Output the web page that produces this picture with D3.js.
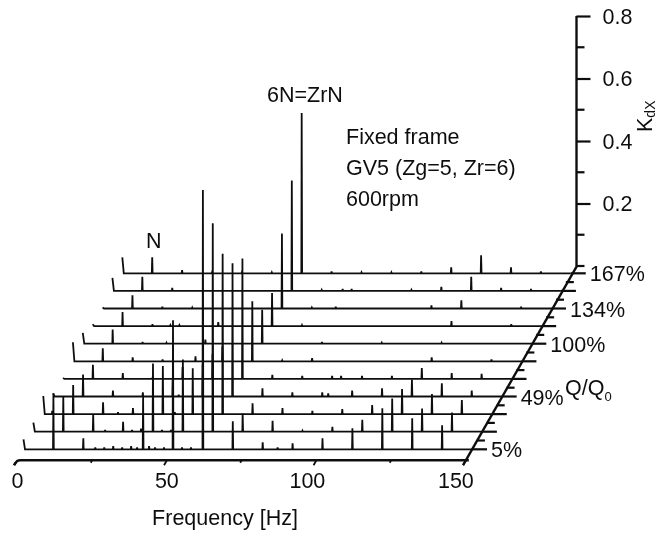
<!DOCTYPE html>
<html><head><meta charset="utf-8">
<script src="https://cdn.jsdelivr.net/npm/d3@7"></script>
<style>html,body{margin:0;background:#fff}svg{display:block}text{font-family:"Liberation Sans",Arial,sans-serif;fill:#111}</style>
</head><body><svg id="c" width="669" height="534"></svg>
<script>
// [frequency Hz, KdX] spectral peaks for each flow-rate row, front to back
const row0=[[0,.032],[10,.179],[20,.035],[24,.006],[27,.006],[30,.01],[33,.006],[36,.01],[38,.006],[40,.167],[42,.01],[44,.006],[47,.006],[50,.413],[53,.006],[56,.006],[60,.83],[70,.09],[80,.022],[85,.006],[90,.019],[100,.035],[110,.067],[120,.131],[130,.099],[140,.077]];
const row1=[[0,.029],[10,.112],[20,.054],[24,.006],[30,.032],[33,.006],[36,.01],[40,.218],[43,.006],[46,.006],[50,.231],[60,.667],[70,.058],[80,.035],[90,.003],[100,.016],[110,.038],[120,.106],[130,.074],[140,.061]];
const row2=[[0,.058],[3,.01],[10,.093],[20,.038],[25,.006],[30,.019],[40,.154],[44,.006],[50,.147],[60,.513],[70,.035],[80,.019],[90,.01],[100,.016],[110,.029],[120,.08],[130,.064],[140,.045]];
const row3=[[0,.01],[10,.07],[20,.019],[30,.013],[40,.058],[42,.006],[50,.102],[60,.426],[70,.026],[80,.013],[90,.013],[92,.01],[100,.019],[110,.026],[120,.054],[130,.042],[140,.019]];
const row4=[[0,.003],[10,.045],[20,.019],[30,.006],[40,.038],[50,.08],[60,.385],[70,.013],[80,.01],[90,.01],[93,.01],[100,.01],[110,.01],[120,.035],[130,.019],[140,.016]];
const row5=[[0,.061],[10,.042],[20,.013],[30,.006],[41,.016],[50,.048],[60,.192],[70,.003],[80,.01],[120,.013],[140,.006]];
const row6=[[0,.035],[10,.045],[20,.006],[28,.003],[41,.013],[60,.109],[80,.006],[100,.003],[120,.003]];
const row7=[[0,.006],[10,.045],[20,.006],[26,.003],[29,.003],[42,.013],[60,.106],[70,.003],[120,.016],[140,.006]];
const row8=[[0,.003],[10,.042],[20,.006],[30,.003],[60,.24],[70,.003],[78,.006],[110,.01],[120,.026],[140,.006]];
const row9=[[0,.042],[10,.045],[20,.01],[60,.353],[70,.003],[77,.006],[80,.006],[100,.003],[110,.013],[120,.045],[130,.01],[140,.006]];
const row10=[[0,.051],[10,.051],[20,.01],[30,.003],[40,.003],[50,.003],[60,.513],[70,.006],[80,.003],[90,.003],[100,.006],[110,.019],[120,.058],[130,.019],[140,.006]];
const rows=[row0,row1,row2,row3,row4,row5,row6,row7,row8,row9,row10];
const depthLabels=[[0,"5%"],[3,"49%"],[6,"100%"],[8,"134%"],[10,"167%"]];
const freqLabels=[0,50,100,150];
const freqMinor=[25,75,125];
const kMajor=[.2,.4,.6,.8];
const kMinor=[.1,.3,.5,.7];
const notes=["Fixed frame","GV5 (Zg=5, Zr=6)","600rpm"];

const svg=d3.select("#c");
const defs=svg.append("defs");
defs.append("filter").attr("id","scan").attr("x","0").attr("y","0").attr("width","1").attr("height","1")
  .append("feGaussianBlur").attr("stdDeviation",0.4);
const g=svg.append("g").attr("filter","url(#scan)");
const ink="#111";
const fs=21.5;

const xF=d3.scaleLinear().domain([0,150]).range([23.5,472]);
const yK=d3.scaleLinear().domain([0,.8]).range([0,-250]);
const rowY=d3.scaleLinear().domain([0,10]).range([449.3,273.3]);
const rowX=d3.scaleLinear().domain([0,10]).range([0,98.8]);
const yAxisK=d3.scaleLinear().domain([0,.8]).range([266,16]);

// spectrum traces
const trace=(r,i)=>{
  const pts=[];
  r.forEach(([f,v])=>{
    if(f===0){pts.push([f,v],[.5,0]);}
    else pts.push([f-.13,0],[f,v],[f+.13,0]);
  });
  pts.push([150,0]);
  return d3.line().x(p=>xF(p[0])+rowX(i)).y(p=>rowY(i)+yK(p[1]))(pts);
};
g.append("g").selectAll("path").data(rows).join("path")
  .attr("d",trace).attr("fill","none").attr("stroke",ink).attr("stroke-width",1.8).attr("stroke-linejoin","miter");

// frequency axis (front edge)
const axisI=-0.62, fx=f=>xF(f)+rowX(axisI), fy=rowY(axisI);
g.append("path").attr("d",`M${fx(0)-3.5},${fy+5}Q${fx(0)-1},${fy} ${fx(0)+3},${fy}L${fx(150)+3},${fy}`)
  .attr("fill","none").attr("stroke",ink).attr("stroke-width",2.4);
g.append("g").selectAll("line").data(freqLabels).join("line")
  .attr("x1",f=>fx(f)).attr("y1",fy).attr("x2",f=>fx(f)-2.8).attr("y2",fy+5)
  .attr("stroke",ink).attr("stroke-width",1.8);
g.append("g").selectAll("line").data(freqMinor).join("line")
  .attr("x1",f=>fx(f)).attr("y1",fy).attr("x2",f=>fx(f)-1.4).attr("y2",fy+2.5)
  .attr("stroke",ink).attr("stroke-width",1.8);
g.append("g").selectAll("text").data(freqLabels).join("text")
  .attr("x",f=>fx(f)-(f===0?0:f===50?0:f===100?9:10)).attr("y",488).attr("text-anchor","middle")
  .attr("font-size",fs).text(d=>d);
g.append("text").attr("x",225).attr("y",525).attr("text-anchor","middle").attr("font-size",fs).text("Frequency [Hz]");

// depth axis
g.append("line").attr("x1",xF(150)+rowX(-.9)).attr("y1",rowY(-.9)).attr("x2",xF(150)+rowX(10.41)+2).attr("y2",rowY(10.41))
  .attr("stroke",ink).attr("stroke-width",2.4);
const ticks=d3.range(0,10.5,.5);
g.append("g").selectAll("line").data(ticks).join("line")
  .attr("x1",i=>xF(150)+rowX(i)).attr("y1",i=>rowY(i))
  .attr("x2",i=>xF(150)+rowX(i)+(i%1===0?15:8)).attr("y2",i=>rowY(i))
  .attr("stroke",ink).attr("stroke-width",2.2);
g.append("g").selectAll("text").data(depthLabels).join("text")
  .attr("x",d=>xF(150)+rowX(d[0])+19).attr("y",d=>rowY(d[0])+8).attr("font-size",fs).text(d=>d[1]);
const qq=g.append("text").attr("x",565).attr("y",395).attr("font-size",fs);
qq.append("tspan").text("Q/Q");
qq.append("tspan").attr("font-size",13).attr("dy",6).text("0");

// KdX axis
const yAxisG=g.append("g").attr("transform","translate(576.5,0)");
yAxisG.call(d3.axisRight(yAxisK).tickValues(kMajor).tickSize(14).tickPadding(12).tickFormat(d3.format(".1f")))
  .call(s=>s.select(".domain").attr("stroke",ink).attr("stroke-width",2.4))
  .call(s=>s.selectAll(".tick line").attr("stroke",ink).attr("stroke-width",2.2))
  .call(s=>s.selectAll(".tick text").attr("font-size",fs).attr("font-family",null).attr("dy","0.34em"));
yAxisG.append("g").selectAll("line").data(kMinor.concat([0])).join("line")
  .attr("x1",0).attr("x2",8).attr("y1",yAxisK).attr("y2",yAxisK).attr("stroke",ink).attr("stroke-width",2.2);
yAxisG.select(".domain").attr("d",`M0,${yAxisK(.8)}H0V${yAxisK(0)}`);
const kd=g.append("text").attr("transform","translate(652,132) rotate(-90)").attr("font-size",fs);
kd.append("tspan").text("K");
kd.append("tspan").attr("font-size",14).attr("dy",3).text("dX");

// annotations
g.append("text").attr("x",267).attr("y",102).attr("font-size",fs).text("6N=ZrN");
g.append("text").attr("x",146).attr("y",248).attr("font-size",fs).text("N");
g.append("g").selectAll("text").data(notes).join("text")
  .attr("x",346).attr("y",(d,i)=>144+i*31).attr("font-size",fs).text(d=>d);
</script></body></html>
